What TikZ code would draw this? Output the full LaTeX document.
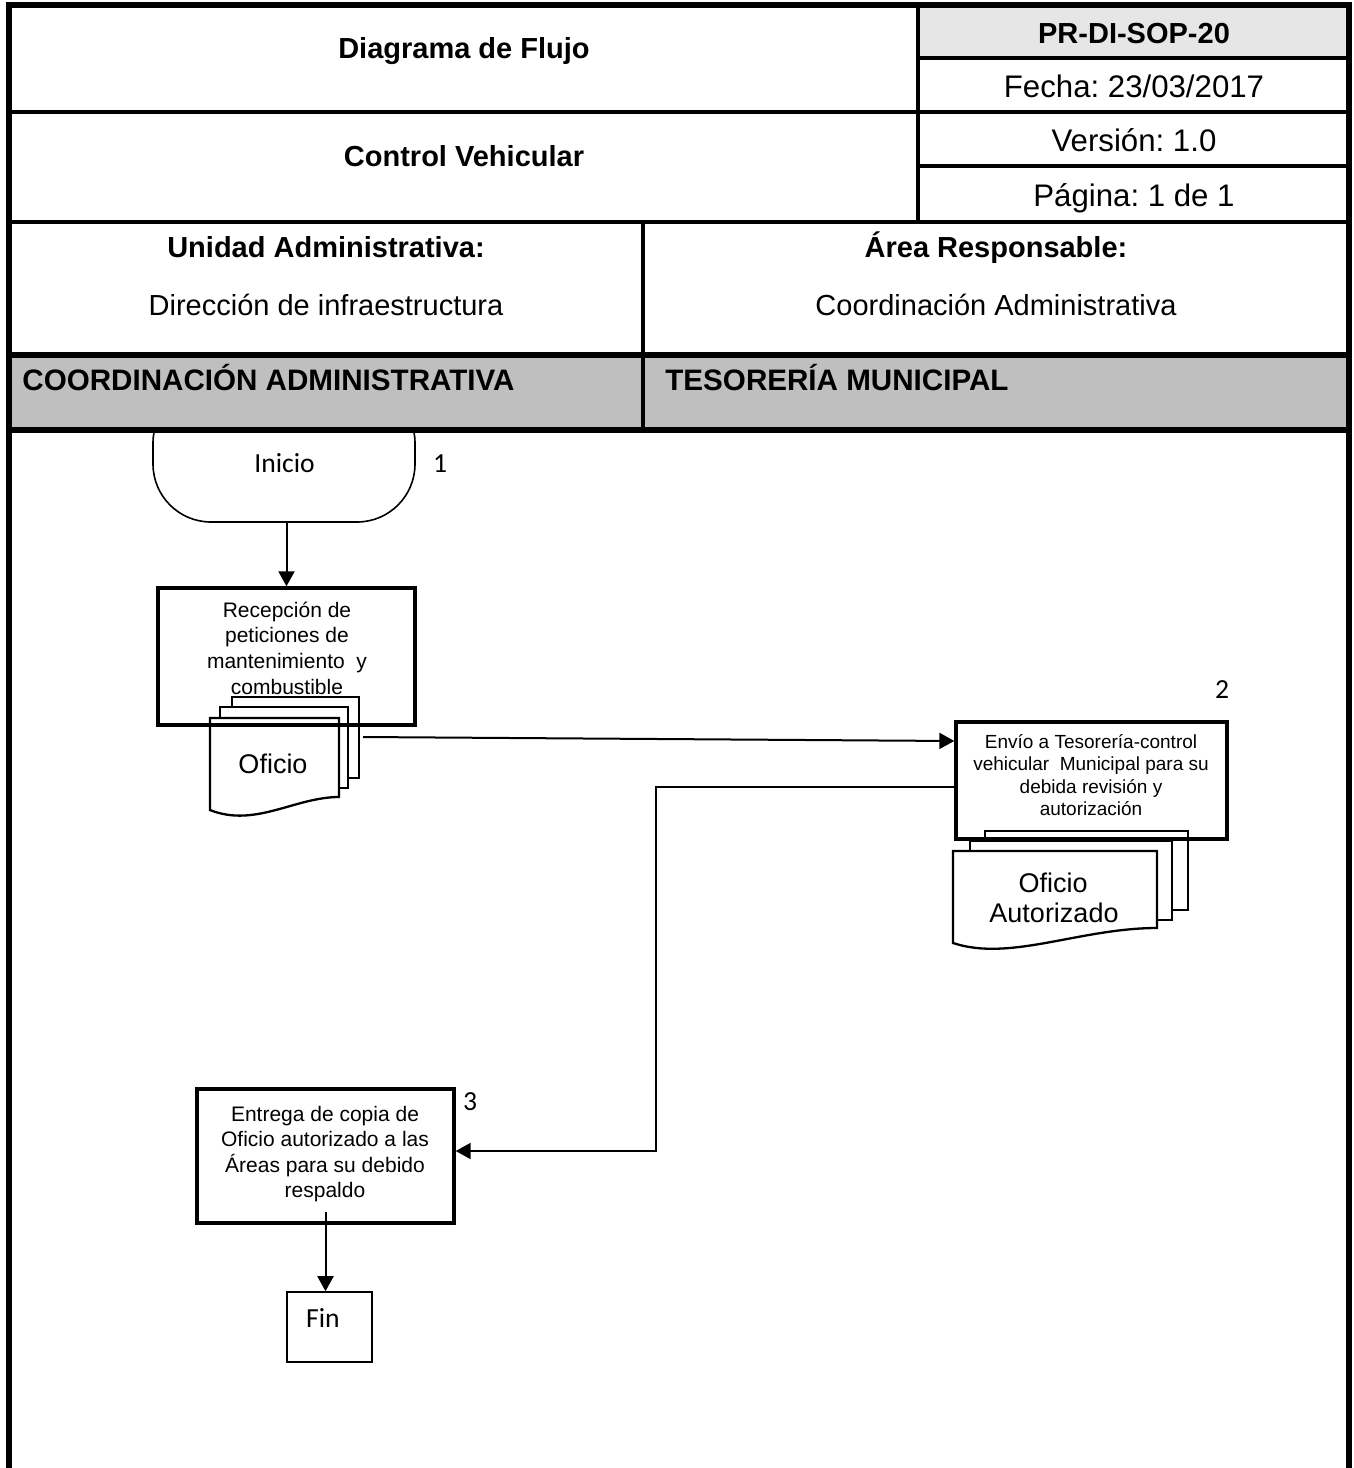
\documentclass[tikz,border=0pt]{standalone}
\usepackage{fontspec}
\setmainfont{Liberation Sans}
\newfontfamily\calib{Carlito}
\usetikzlibrary{arrows.meta}
\definecolor{codegray}{RGB}{230,230,230}
\definecolor{lanegray}{RGB}{191,191,191}
\frenchspacing
\begin{document}
\begin{tikzpicture}[x=0.5pt,y=-0.5pt,
  hdr/.style={font=\fontsize{14.5}{17}\selectfont, inner sep=0, anchor=base},
  hdrr/.style={font=\fontsize{15.6}{18}\selectfont, inner sep=0, anchor=base},
  hdrb/.style={font=\bfseries\fontsize{14.5}{17}\selectfont, inner sep=0, anchor=base},
  laneb/.style={font=\bfseries\fontsize{14.8}{17}\selectfont, inner sep=0, anchor=base west},
  hline/.style={line width=1.6pt},
  thickline/.style={line width=2.6pt},
  procbox/.style={draw, line width=1.7pt, inner sep=0},
  conn/.style={line width=1pt, -{Triangle[length=7.5pt,width=8pt]}},
  docshape/.style={draw, line width=1.15pt, fill=white},
  ftxt/.style={align=center, inner sep=0, font=\fontsize{10.5}{12.8}\selectfont},
  ftxts/.style={align=center, inner sep=0, font=\fontsize{9.5}{11.2}\selectfont},
  dtxt/.style={inner sep=0, anchor=base, font=\fontsize{13.5}{15}\selectfont},
  cal/.style={font=\calib\fontsize{13.8}{16}\selectfont, inner sep=0, anchor=base},
]
\useasboundingbox (0,0) rectangle (1354,1468);

% start terminal (top hidden under header)
\node[draw, line width=0.8pt, rounded corners=29pt, minimum width=131pt, minimum height=68.5pt, inner sep=0] (inicio) at (284,453.5) {};

% header table
\fill[codegray] (918,5) rectangle (1349,58);
\fill[lanegray] (9,355) rectangle (1349,430);
\draw[hline] (918,5) -- (918,222);
\draw[hline] (918,58) -- (1349,58);
\draw[hline] (9,112) -- (1349,112);
\draw[hline] (918,166) -- (1349,166);
\draw[hline] (9,222) -- (1349,222);
\draw[hline] (643,222) -- (643,430);
\draw[thickline] (9,355) -- (1349,355);
\draw[thickline] (9,430) -- (1349,430);
\draw[line width=3pt] (9,1480) -- (9,5) -- (1349,5) -- (1349,1480);

\node[hdrb] (t1) at (464,58) {Diagrama de Flujo};
\node[hdrb] (t2) at (464,166) {Control Vehicular};
\node[hdrb] (t3) at (1134,43) {PR-DI-SOP-20};
\node[hdrr] (t4) at (1134,97) {Fecha: 23/03/2017};
\node[hdrr] (t5) at (1134,151) {Versión: 1.0};
\node[hdrr] (t6) at (1134,206) {Página: 1 de 1};
\node[hdrb] (t7) at (326,257) {Unidad Administrativa:};
\node[hdr] (t8) at (326,315) {Dirección de infraestructura};
\node[hdrb] (t9) at (996,257) {Área Responsable:};
\node[hdr] (t10) at (996,315) {Coordinación Administrativa};
\node[laneb] (lane1) at (22,390) {COORDINACIÓN ADMINISTRATIVA};
\node[laneb] (lane2) at (665,390) {TESORERÍA MUNICIPAL};

% document stack 1
\draw[docshape] (232,697) rectangle (359,778);
\draw[docshape] (220,707) rectangle (348,788);
\draw[docshape] (210,718) -- (339,718) -- (339,797) .. controls (295,797) and (255,828) .. (210,810) -- cycle;
% document stack 2
\draw[docshape] (985,831) rectangle (1188,910);
\draw[docshape] (970,841) rectangle (1172,920);
\draw[docshape] (953,851) -- (1157,851) -- (1157,928) .. controls (1080,928) and (1010,962) .. (953,943) -- cycle;

% process boxes
\node[procbox, minimum width=128.5pt, minimum height=68.5pt] (r1) at (286.5,656.5) {};
\node[procbox, minimum width=135.5pt, minimum height=58.5pt] (r2) at (1091.5,780.5) {};
\node[procbox, minimum width=128.5pt, minimum height=67pt] (r3) at (325.5,1156) {};
\node[draw, line width=0.8pt, minimum width=42.5pt, minimum height=35pt, inner sep=0] (fin) at (329.5,1327) {};

% texts
\node[cal] (inicioT) at (284.5,472) {Inicio};
\node[cal] (n1) at (440,472) {1};
\node[cal] (n2) at (1222,698) {2};
\node[cal] (n3) at (470,1110) {3};
\node[cal] (finT) at (323,1327) {Fin};
\node[ftxt] (r1t) at (287,648) {Recepción de\\peticiones de\\mantenimiento~ y\\combustible};
\node[ftxts] (r2t) at (1091,775) {Envío a Tesorería-control\\vehicular~ Municipal para su\\debida revisión y\\autorización};
\node[ftxt] (r3t) at (325,1154) {Entrega de copia de\\Oficio autorizado a las\\Áreas para su debido\\respaldo};
\node[dtxt] (d1t) at (273,773) {Oficio};
\node[dtxt] (d2t) at (1053,892) {Oficio};
\node[dtxt] (d2t2) at (1054,922) {Autorizado};

% connectors
\coordinate (d1out) at (363,737);
\coordinate (bend1) at (656,787);
\coordinate (bend2) at (656,1151);
\draw[conn] (r1.north |- inicio.south) -- (r1.north);
\draw[conn] (d1out) -- ([yshift=19.75pt]r2.west);
\draw[conn] ([yshift=-3.25pt]r2.west) -- (bend1) -- (bend2) -- (r3.east |- bend2);
\draw[conn] ([yshift=6.5pt]r3.south) -- (r3.south |- fin.north);
\end{tikzpicture}
\end{document}
